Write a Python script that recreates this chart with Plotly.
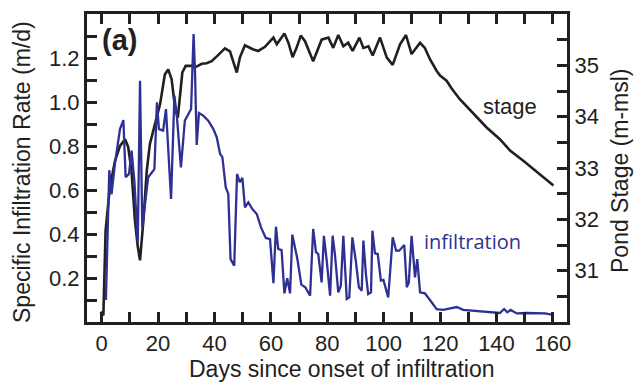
import plotly.graph_objects as go

# ---- data ----
stage_days = [-0.4, 0.6, 1.4, 2.9, 4.7, 6.5, 8.3, 9.4, 10.6, 11.8, 12.8, 13.6, 14.8, 16.0, 17.1,
              18.9, 20.7, 22.4, 23.6, 24.8, 26.0, 27.0, 27.8, 28.6, 29.8, 31.9, 33.1, 35.5, 37.2,
              39.0, 41.3, 43.7, 45.5, 47.9, 49.0, 50.8, 53.8, 55.5, 57.9, 60.9, 62.1, 64.8, 66.2,
              67.7, 69.1, 70.6, 72.1, 75.0, 78.0, 80.4, 82.1, 83.9, 85.7, 87.4, 89.0, 91.4, 92.8,
              94.6, 96.1, 98.7, 101.1, 103.2, 105.8, 107.9, 109.9, 112.9, 114.6, 116.4, 118.8,
              120.0, 122.3, 124.1, 127.0, 130.6, 131.8, 136.5, 141.2, 144.8, 149.5, 154.3, 157.2,
              160.2]
stage_m = [30.20, 30.13, 31.78, 32.62, 33.13, 33.43, 33.56, 33.41, 32.94, 31.98, 31.47, 31.20,
           31.98, 32.95, 33.47, 33.85, 34.24, 34.82, 34.92, 34.73, 34.18, 33.98, 34.44, 34.86,
           34.99, 34.99, 34.96, 35.03, 35.04, 35.08, 35.20, 35.33, 35.27, 34.86, 35.15, 35.39,
           35.31, 35.28, 35.36, 35.54, 35.41, 35.62, 35.44, 35.16, 35.34, 35.58, 35.47, 35.08,
           35.50, 35.54, 35.34, 35.59, 35.37, 35.44, 35.28, 35.54, 35.34, 35.37, 35.19, 35.54,
           35.15, 35.01, 35.41, 35.59, 35.22, 35.44, 35.34, 35.12, 34.89, 34.80, 34.70, 34.55,
           34.34, 34.13, 34.05, 33.79, 33.56, 33.34, 33.14, 32.92, 32.79, 32.66]

infil_days = [1.5, 2.7, 3.5, 4.7, 6.5, 7.7, 8.5, 9.7, 10.6, 11.6, 12.8, 13.6, 14.4, 15.6, 16.5,
              18.7, 19.6, 20.3, 21.8, 22.8, 24.6, 25.8, 26.7, 28.1, 29.5, 31.7, 32.6, 33.1, 33.7,
              34.5, 36.0, 37.8, 39.6, 40.8, 42.0, 42.8, 44.0, 44.9, 45.7, 47.0, 48.0, 49.0, 49.9,
              50.8, 52.0, 53.4, 55.0, 56.5, 58.2, 59.7, 60.9, 61.8, 62.6, 63.8, 64.8, 65.8, 66.8,
              67.6, 68.5, 69.4, 70.8, 72.2, 73.9, 75.0, 76.0, 76.8, 78.0, 78.8, 79.8, 81.0, 81.9,
              82.7, 83.9, 84.8, 85.7, 86.9, 87.8, 88.9, 90.1, 91.2, 92.2, 92.8, 93.7, 94.5, 95.5,
              96.0, 96.9, 97.9, 99.0, 99.9, 101.6, 103.2, 104.4, 105.5, 107.3, 108.2, 108.9, 109.9,
              111.1, 111.9, 112.9, 114.6, 116.4, 118.8, 121.1, 123.5, 125.9, 128.2, 131.8, 135.3,
              138.9, 141.2, 142.7, 143.8, 145.0, 147.2, 150.7, 154.3, 157.2, 159.6]
infil_rate = [0.10, 0.69, 0.58, 0.72, 0.877, 0.918, 0.658, 0.673, 0.779, 0.642, 0.362, 1.097,
              0.43, 0.567, 0.658, 0.695, 0.999, 0.877, 0.87, 0.968, 0.559, 1.029, 0.93, 0.703,
              0.915, 0.968, 1.309, 1.135, 0.805, 0.95, 0.938, 0.915, 0.877, 0.84, 0.764, 0.749,
              0.612, 0.582, 0.286, 0.256, 0.673, 0.635, 0.655, 0.521, 0.544, 0.514, 0.491, 0.43,
              0.382, 0.377, 0.176, 0.433, 0.332, 0.327, 0.13, 0.199, 0.13, 0.397, 0.34, 0.286,
              0.17, 0.158, 0.12, 0.423, 0.317, 0.309, 0.18, 0.392, 0.279, 0.12, 0.392, 0.309,
              0.135, 0.165, 0.392, 0.105, 0.112, 0.385, 0.279, 0.158, 0.142, 0.37, 0.218, 0.127,
              0.135, 0.415, 0.312, 0.309, 0.188, 0.191, 0.112, 0.385, 0.324, 0.324, 0.35, 0.158,
              0.18, 0.392, 0.203, 0.286, 0.135, 0.13, 0.10, 0.058, 0.055, 0.062, 0.068, 0.055,
              0.051, 0.047, 0.041, 0.041, 0.059, 0.044, 0.055, 0.039, 0.041, 0.039, 0.039, 0.033]

x_ticks = [0, 20, 40, 60, 80, 100, 120, 140, 160]
x_minor = [10, 30, 50, 70, 90, 110, 130, 150]
left_ticks = [0.2, 0.4, 0.6, 0.8, 1.0, 1.2]
left_ticktext = ["0.2", "0.4", "0.6", "0.8", "1.0", "1.2"]
left_minor = [0.1, 0.3, 0.5, 0.7, 0.9, 1.1, 1.3]
right_ticks = [31, 32, 33, 34, 35]
right_minor = [30.5, 31.5, 32.5, 33.5, 34.5, 35.5]

INK = "#231f20"
BLUE = "#2e3192"
FONT = "Liberation Sans, Arial, sans-serif"

fig = go.Figure()
fig.add_trace(go.Scatter(x=stage_days, y=stage_m, mode="lines", yaxis="y",
                         line=dict(color=INK, width=2.6), showlegend=False))
fig.add_trace(go.Scatter(x=infil_days, y=infil_rate, mode="lines", yaxis="y2",
                         line=dict(color=BLUE, width=2.3), showlegend=False))

axis_common = dict(showgrid=False, zeroline=False, showline=True, linewidth=3, linecolor=INK,
                   ticks="inside", ticklen=10, tickwidth=2.5, tickcolor=INK,
                   tickfont=dict(family=FONT, size=22, color=INK))

fig.update_layout(
    width=637, height=390,
    margin=dict(l=87, r=70, t=14, b=68),
    paper_bgcolor="white", plot_bgcolor="white",
    xaxis=dict(range=[-5.2, 165], tickmode="array", tickvals=x_ticks, mirror="ticks",
               minor=dict(tickmode="array", tickvals=x_minor, ticks="inside", ticklen=10,
                          tickwidth=2.5, tickcolor=INK),
               **axis_common),
    yaxis=dict(range=[30, 36], side="right", tickmode="array", tickvals=right_ticks,
               minor=dict(tickmode="array", tickvals=right_minor, ticks="inside", ticklen=10,
                          tickwidth=2.5, tickcolor=INK),
               **axis_common),
    yaxis2=dict(range=[0, 1.4], side="left", overlaying="y", tickmode="array",
                tickvals=left_ticks, ticktext=left_ticktext,
                minor=dict(tickmode="array", tickvals=left_minor, ticks="inside", ticklen=10,
                           tickwidth=2.5, tickcolor=INK),
                **axis_common),
    annotations=[
        dict(text="<b>(a)</b>", xref="paper", yref="paper", x=0.0667, y=0.915,
             xanchor="center", yanchor="middle", showarrow=False,
             font=dict(family=FONT, size=29, color=INK)),
        dict(text="stage", xref="x", yref="y", x=144.8, y=34.2, xanchor="center",
             yanchor="middle", showarrow=False, font=dict(family=FONT, size=22, color=INK)),
        dict(text="infiltration", xref="x", yref="y2", x=131.5, y=0.368, xanchor="center",
             yanchor="middle", showarrow=False, font=dict(family="Open Sans", size=20, color=BLUE)),
        dict(text="Days since onset of infiltration", xref="paper", yref="paper",
             x=(342 - 87) / 480, y=-(369 - 322) / 308, xanchor="center", yanchor="middle",
             showarrow=False, font=dict(family=FONT, size=23, color=INK)),
        dict(text="Specific Infiltration Rate (m/d)", xref="paper", yref="paper",
             x=(22 - 87) / 480, y=(322 - 172) / 308, xanchor="center", yanchor="middle",
             textangle=-90, showarrow=False, font=dict(family=FONT, size=23, color=INK)),
        dict(text="Pond Stage (m-msl)", xref="paper", yref="paper",
             x=(620 - 87) / 480, y=(322 - 171) / 308, xanchor="center", yanchor="middle",
             textangle=-90, showarrow=False, font=dict(family=FONT, size=23, color=INK)),
    ],
)

fig.write_html("out.html")
